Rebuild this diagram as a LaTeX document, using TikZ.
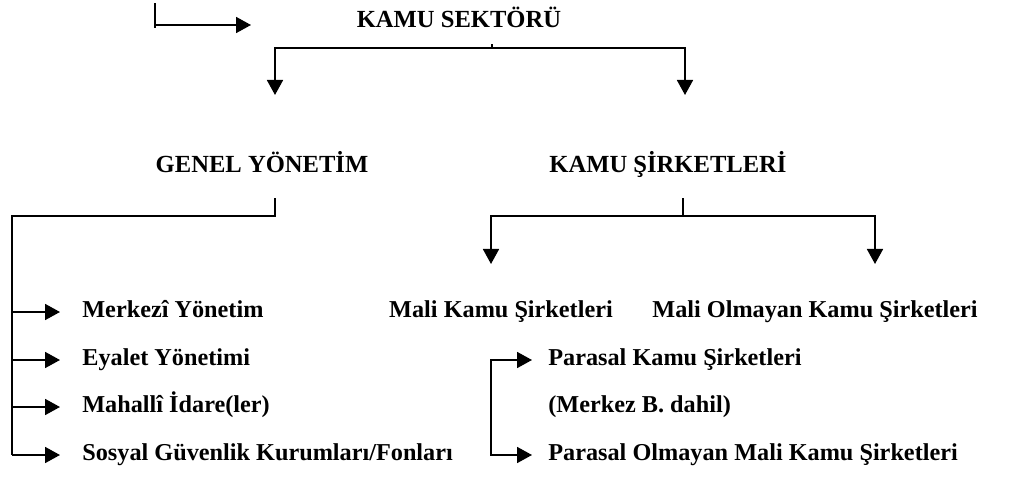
\documentclass[tikz,border=0pt]{standalone}
\usepackage{fontspec}
\setmainfont{Liberation Serif}
\usetikzlibrary{arrows.meta}
\newcommand{\headfont}{\fontsize{14}{17}\selectfont\bfseries}
\newcommand{\itemfont}{\fontsize{13.8}{16}\selectfont\bfseries}
\tikzset{
  head/.style={font=\headfont, inner sep=0pt, text height=2.2ex, text depth=0.9ex},
  item/.style={font=\itemfont, inner sep=0pt, anchor=west, text height=2.2ex, text depth=0.9ex},
  line/.style={line width=1pt},
  arr/.style={line width=1pt, -{Triangle[length=0.3cm,width=0.32cm]}},
  arrs/.style={line width=1pt, {Triangle[length=0.3cm,width=0.32cm]}-{Triangle[length=0.3cm,width=0.32cm]}}
}
\begin{document}
\begin{tikzpicture}[x=0.02cm, y=-0.02cm]
	\useasboundingbox (0,0) rectangle (1021,480);
	\node[head] (sektor) at (459,22) {KAMU SEKTÖRÜ};
	\node[head] (genel) at (262,167) {GENEL YÖNETİM};
	\node[head] (sirket) at (668,167) {KAMU ŞİRKETLERİ};
	
	% Genel yonetim
	\node[item] (merkezi) at (82,312) {Merkezî Yönetim};
	\node[item] (eyalet) at (82,360) {Eyalet Yönetimi};
	\node[item] (mahalli) at (82,407) {Mahallî İdare(ler)};
	\node[item] (sosyal) at (82,455) {Sosyal Güvenlik Kurumları/Fonları};
	
	% Kamu sirketleri
	\node[item, anchor=center] (mali) at (501,312) {Mali Kamu Şirketleri};
	\node[item, anchor=center] (malio) at (815,312) {Mali Olmayan Kamu Şirketleri};
	\node[item] (parasal) at (548,360) {Parasal Kamu Şirketleri};
	\node[item] (merkezb) at (548,407) {(Merkez B. dahil)};
	\node[item] (parasalo) at (548,455) {Parasal Olmayan Mali Kamu Şirketleri};
	
	% top left arrow
	\coordinate (t0) at (155,3);
	\coordinate (t1) at (155,28);
	\coordinate (t2) at (251,25);
	\draw[line] (t0) -- (t1);
	\draw[arr] (t0 |- t2) -- (t2);
	
	% Kamu sektoru split
	\coordinate (sm) at (492,44);
	\coordinate (sl) at (275,48);
	\coordinate (sr) at (685,48);
	\draw[line] (sm) -- (sm |- sl);
	\draw[arrs] ([yshift=-0.94cm]sl) -- (sl) -- (sr) -- ([yshift=-0.94cm]sr);
	
	% Genel yonetim branch
	\coordinate (gt) at (275,198);
	\coordinate (gv) at (12,216);
	\draw[line] (gt) |- (gv) -- (gv |- sosyal.west);
	\foreach \n in {merkezi,eyalet,mahalli,sosyal}
		\draw[arr] (gv |- \n.west) -- ([xshift=-0.44cm]\n.west);
	
	% Kamu sirketleri branch
	\coordinate (kt) at (683,198);
	\coordinate (kl) at (491,216);
	\coordinate (kr) at (875,216);
	\draw[line] (kt) -- (kt |- kl);
	\draw[arrs] ([yshift=-0.96cm]kl) -- (kl) -- (kr) -- ([yshift=-0.96cm]kr);
	
	% Parasal bracket
	\coordinate (pv) at (491,407);
	\draw[arrs] ([xshift=-0.32cm]parasal.west) -| (pv) |- ([xshift=-0.32cm]parasalo.west);
\end{tikzpicture}
\end{document}
